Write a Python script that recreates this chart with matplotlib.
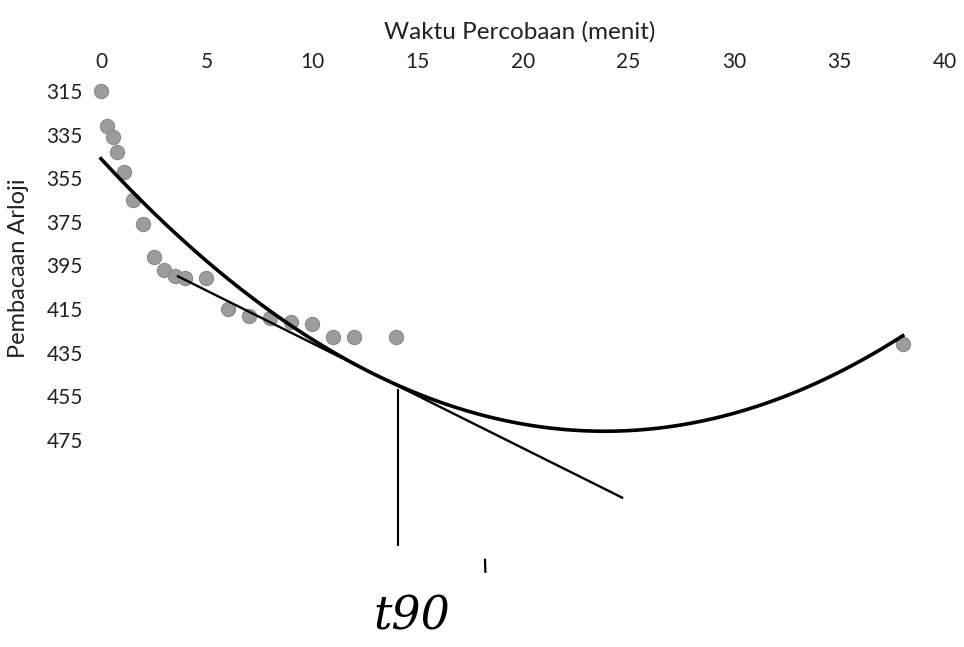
import numpy as np
import matplotlib.pyplot as plt

plt.rcParams["font.family"] = ["Lato", "DejaVu Sans"]

# data
waktu = [0, 0.3, 0.55, 0.75, 1.1, 1.5, 2, 2.5, 3, 3.5, 4, 5, 6, 7, 8, 9, 10, 11, 12, 14, 38]
bacaan = [315, 331, 336, 343, 352, 365, 376, 391, 397, 400, 401, 401,
          415, 418, 419, 421, 422, 428, 428, 428, 431]

x_ticks = [0, 5, 10, 15, 20, 25, 30, 35, 40]
y_ticks = [315, 335, 355, 375, 395, 415, 435, 455, 475]

# hand drawn tangent and t90 marker
tangen_x = [3.65, 24.7]
tangen_y = [400, 501.5]
t90_x = 14.1
t90_y = [452, 523]

fig = plt.figure(figsize=(9.64, 6.47), dpi=100)
ax = fig.add_axes([0.0872, 0.0, 0.904, 0.883])

ax.scatter(waktu, bacaan, s=105, color="#9c9c9c", edgecolors="#8a8a8a",
           linewidths=0.8, zorder=3, clip_on=False)

# polynomial (order 2) trendline
coef = np.polyfit(waktu, bacaan, 2)
xs = np.linspace(0, 38, 300)
ax.plot(xs, np.polyval(coef, xs), color="black", lw=2.6, zorder=4)

ax.plot(tangen_x, tangen_y, color="black", lw=1.7, zorder=4)
ax.plot([t90_x, t90_x], t90_y, color="black", lw=1.5, zorder=4)
ax.text(14.75, 556, "t90", fontsize=33, family="DejaVu Serif",
        style="italic", ha="center", va="center")
ax.plot([18.2, 18.22], [530, 535.5], color="black", lw=1.6)

ax.set_xlim(-0.8, 40.5)
ax.set_ylim(570, 308)
ax.set_xticks(x_ticks)
ax.set_yticks(y_ticks)
ax.xaxis.tick_top()
ax.xaxis.set_label_position("top")
ax.tick_params(length=0, labelsize=15, colors="#222222")
ax.tick_params(axis="x", pad=3)
ax.tick_params(axis="y", pad=1)
ax.set_xlabel("Waktu Percobaan (menit)", fontsize=17.5, color="#222222", labelpad=9)
ax.set_ylabel("Pembacaan Arloji", fontsize=17, color="#222222", va="center")
ax.yaxis.set_label_coords(-0.0757, 0.663)
for s in ax.spines.values():
    s.set_visible(False)

fig.savefig("out.png", dpi=100)
